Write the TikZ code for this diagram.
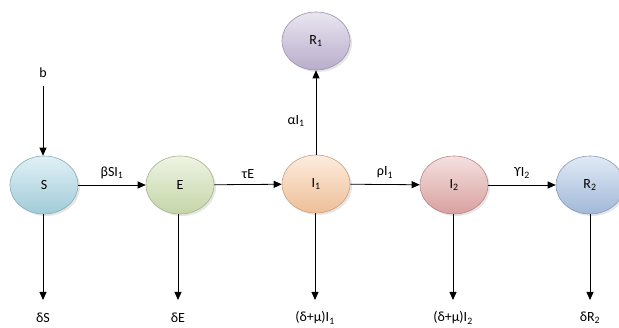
\documentclass[tikz,border=0pt]{standalone}
\usepackage{fontspec}
\setmainfont{Carlito}
\usetikzlibrary{shapes.geometric,arrows.meta,shadows}
\definecolor{cS}{HTML}{A9D6E5}
\definecolor{cE}{HTML}{CFE0B0}
\definecolor{cI}{HTML}{FAC9A0}
\definecolor{cJ}{HTML}{E3A9A8}
\definecolor{cR}{HTML}{C2B6D6}
\definecolor{cQ}{HTML}{A9C2E3}
\tikzset{
  comp/.style={ellipse, minimum width=68pt, minimum height=58pt, inner sep=0pt,
    top color=#1!35!white, bottom color=#1!95!black, draw=#1!80!black, line width=0.6pt,
    drop shadow={shadow xshift=2pt, shadow yshift=-2pt, opacity=0.2},
    font=\fontsize{14}{16}\selectfont},
  lbl/.style={font=\fontsize{14}{16}\selectfont, inner sep=1pt},
  flow/.style={line width=0.8pt, -{Triangle[length=8pt,width=7pt]}}
}
\newcommand{\sbs}[1]{\textsubscript{#1}}
\begin{document}
\begin{tikzpicture}[x=1pt,y=-1pt]
\useasboundingbox (0,0) rectangle (619,328);
\node[comp=cS] (S) at (44,185) {S};
\node[comp=cE] (E) at (180,185) {E};
\node[comp=cI] (I1) at (316,184) {I\sbs{1}};
\node[comp=cJ] (I2) at (454,185) {I\sbs{2}};
\node[comp=cR] (R1) at (316,41) {R\sbs{1}};
\node[comp=cQ] (R2) at (590,185) {R\sbs{2}};
\node[lbl] (b) at (43,73) {b};
\node[lbl] (dS) at (43,318) {δS};
\node[lbl] (dE) at (178,318) {δE};
\node[lbl] (dI1) at (315,318) {(δ+μ)I\sbs{1}};
\node[lbl] (dI2) at (453,318) {(δ+μ)I\sbs{2}};
\node[lbl] (dR2) at (590,318) {δR\sbs{2}};
\coordinate (bS) at (43,86);
\coordinate (eS) at (43,300);
\coordinate (eE) at (178,300);
\coordinate (eI1) at (315,300);
\coordinate (eI2) at (453,300);
\coordinate (eR2) at (590,300);
\draw[flow] (bS) -- (S.north -| bS);
\draw[flow] (S.south -| eS) -- (eS);
\draw[flow] (E.south -| eE) -- (eE);
\draw[flow] (I1.south -| eI1) -- (eI1);
\draw[flow] (I2.south -| eI2) -- (eI2);
\draw[flow] (R2.south -| eR2) -- (eR2);
\draw[flow] (S) -- node[lbl, above=5pt] {βSI\sbs{1}} (E);
\draw[flow] (E) -- node[lbl, above=5pt] {τE} (I1);
\draw[flow] (I1) -- node[lbl, above=5pt] {ρI\sbs{1}} (I2);
\draw[flow] (I2) -- node[lbl, above=5pt] {ϒI\sbs{2}} (R2);
\draw[flow] (I1) -- node[lbl, left=10pt, pos=0.4] {αI\sbs{1}} (R1);
\end{tikzpicture}
\end{document}
